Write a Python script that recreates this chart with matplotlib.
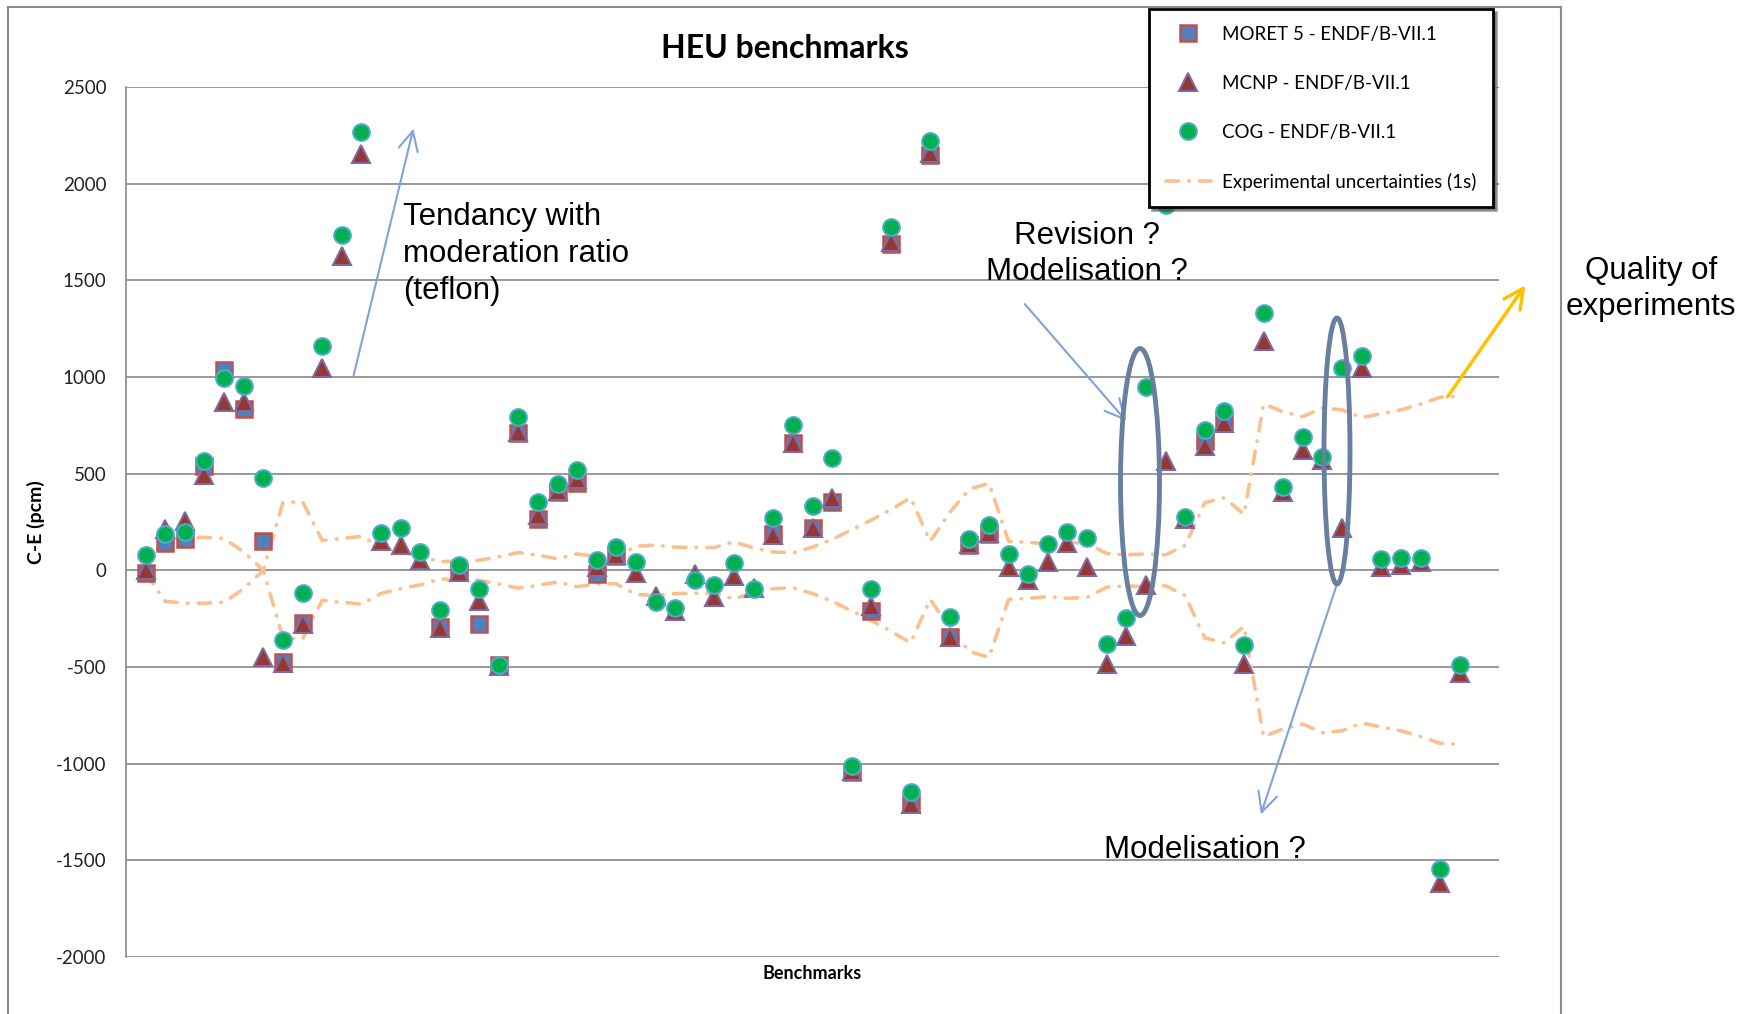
import numpy as np
import matplotlib.pyplot as plt
from matplotlib.patches import Ellipse, Rectangle

W, H = 1746, 1014
nan = np.nan
plt.rcParams['axes.unicode_minus'] = False

# C-E values (pcm), one per benchmark
moret = [-12, 143, 163, 541, 1035, 834, 153, -474, -271, nan,
         nan, nan, nan, nan, nan, -295, -2, -275, -490, 711,
         263, 405, 453, -19, 76, nan, nan, nan, nan, nan,
         nan, nan, 189, 659, 220, 356, -1042, -208, 1690, -1207,
         2147, -347, 130, 186, nan, nan, nan, nan, nan, nan,
         nan, nan, nan, nan, 667, 771, nan, nan, nan, nan,
         nan, nan, nan, nan, nan, nan, nan, nan]
mcnp = [0, 213, 257, 491, 873, 870, -448, -480, -275, 1049,
        1626, 2153, 153, 133, 54, -300, -10, -157, -495, 713,
        284, 408, 474, 16, 81, -14, -135, -210, -19, -140,
        -31, -90, 185, 659, 220, 373, -1040, -182, 1700, -1210,
        2160, -347, 134, 195, 17, -52, 43, 139, 17, -485,
        -338, -78, 563, 265, 641, 763, -485, 1184, 404, 624,
        572, 217, 1045, 17, 26, 43, -1615, -529]
cog = [78, 187, 197, 567, 993, 955, 478, -360, -119, 1162,
       1735, 2267, 193, 217, 94, -205, 28, -97, -490, 792,
       356, 448, 517, 55, 119, 42, -163, -195, -52, -76,
       36, -97, 270, 753, 335, 582, -1012, -99, 1777, -1146,
       2222, -240, 160, 234, 87, -21, 134, 196, 165, -382,
       -248, 947, 1890, 277, 728, 823, -385, 1331, 433, 688,
       584, 1045, 1109, 61, 64, 64, -1547, -490]
# experimental uncertainty (1 sigma, pcm)
sigma = [15, 160, 170, 170, 165, 95, 0, 350, 355, 155,
         165, 175, 120, 95, 75, 45, 48, 52, 70, 92,
         78, 60, 85, 70, 70, 125, 130, 120, 118, 118,
         148, 115, 95, 90, 120, 160, 210, 260, 315, 375,
         150, 300, 420, 450, 150, 145, 135, 145, 140, 87,
         80, 85, 80, 130, 350, 375, 290, 860, 820, 795,
         840, 830, 790, 810, 830, 860, 895, 900]

bench = np.arange(1, len(cog) + 1)
sigma = np.array(sigma)


def fxy(x, y):
    # pixel position (from top left) -> figure fraction
    return x / W, 1 - y / H


fig = plt.figure(figsize=(W / 100, H / 100), dpi=100)
ax = fig.add_axes([126 / W, 1 - 957 / H, (1499 - 126) / W, (957 - 87) / H])

unc_style = dict(color='#FAC090', lw=2.6, dashes=(3.5, 2.8, 0.2, 2.8),
                 dash_capstyle='round', zorder=2)
ax.plot(bench, sigma, label='Experimental uncertainties (1s)', **unc_style)
ax.plot(bench, -sigma, **unc_style)

ax.plot(bench, moret, ls='none', marker='s', ms=11, mfc='#4F81BD',
        mec='#C0504D', mew=1.8, zorder=3, label='MORET 5 - ENDF/B-VII.1')
ax.plot(bench, mcnp, ls='none', marker='^', ms=13, mfc='#953735',
        mec='#7F6A9E', mew=1.5, zorder=4, label='MCNP - ENDF/B-VII.1')
ax.plot(bench, cog, ls='none', marker='o', ms=12, mfc='#00B050',
        mec='#4BACC6', mew=1.5, zorder=5, label='COG - ENDF/B-VII.1')

ax.set_xlim(0, 70)
ax.set_ylim(-2000, 2500)
ax.set_yticks(np.arange(-2000, 2501, 500))
ax.set_xticks([])
ax.grid(axis='y', color='#888888', lw=1.2)
ax.set_axisbelow(True)
for s in ['top', 'right', 'bottom']:
    ax.spines[s].set_visible(False)
ax.spines['left'].set_color('#888888')
ax.spines['left'].set_linewidth(1.2)
ax.tick_params(axis='y', length=0, pad=14, labelsize=13.5, labelcolor='#222222')
for t in ax.get_yticklabels():
    t.set_fontfamily('Lato')

ax.set_xlabel('Benchmarks', fontsize=13, fontweight='bold', family='Lato', labelpad=6)
ax.set_ylabel('C-E (pcm)', fontsize=14, fontweight='bold', family='Lato', labelpad=8)

fig.text(*fxy(785, 48), 'HEU benchmarks', ha='center', va='center',
         fontsize=23, fontweight='bold', family='Lato')

h, l = ax.get_legend_handles_labels()
order = [1, 2, 3, 0]
leg = ax.legend([h[i] for i in order], [l[i] for i in order],
                loc='upper left', bbox_to_anchor=fxy(1149, 9),
                bbox_transform=fig.transFigure, borderaxespad=0,
                fancybox=False, shadow=True,
                edgecolor='black', framealpha=1, borderpad=0.9,
                labelspacing=1.7, handlelength=2.4, handletextpad=0.6,
                prop={'family': 'Lato', 'size': 13.5})
leg.get_frame().set_linewidth(2)
leg.set_zorder(10)

# outer chart border
fig.add_artist(Rectangle(fxy(8, 1030), (1561 - 8) / W, (1030 - 7) / H,
                         transform=fig.transFigure, fill=False,
                         ec='#8C8C8C', lw=1.5))

txt = dict(family='Liberation Sans', fontsize=22.5, linespacing=1.3)
fig.text(*fxy(403, 254), 'Tendancy with\nmoderation ratio\n(teflon)',
         ha='left', va='center', **txt)
fig.text(*fxy(1087, 254), 'Revision ?\nModelisation ?', ha='center', va='center', **txt)
fig.text(*fxy(1205, 850), 'Modelisation ?', ha='center', va='center', **txt)
fig.text(*fxy(1651, 289), 'Quality of\nexperiments', ha='center', va='center', **txt)

blue_arrow = dict(arrowstyle='->,head_length=0.7,head_width=0.35',
                  color='#7FA3D8', lw=1.5, mutation_scale=20)
ax.annotate('', xy=fxy(414, 126), xytext=fxy(353, 378), xycoords='figure fraction',
            textcoords='figure fraction', arrowprops=blue_arrow)
ax.annotate('', xy=fxy(1128, 423), xytext=fxy(1023, 302), xycoords='figure fraction',
            textcoords='figure fraction', arrowprops=blue_arrow)
ax.annotate('', xy=fxy(1260, 817), xytext=fxy(1337, 584), xycoords='figure fraction',
            textcoords='figure fraction', arrowprops=blue_arrow)
ax.annotate('', xy=fxy(1527, 283), xytext=fxy(1446, 399), xycoords='figure fraction',
            textcoords='figure fraction',
            arrowprops=dict(arrowstyle='->,head_length=0.7,head_width=0.35',
                            color='#FFC000', lw=2.5, mutation_scale=20))

for cx, cy, w, hh in [(1140, 482, 39, 267), (1337, 451, 26, 266)]:
    fig.add_artist(Ellipse(fxy(cx, cy), w / W, hh / H, transform=fig.transFigure,
                           fill=False, ec='#6A7FA0', lw=3.5, zorder=6))

fig.savefig('out.png', dpi=100)
